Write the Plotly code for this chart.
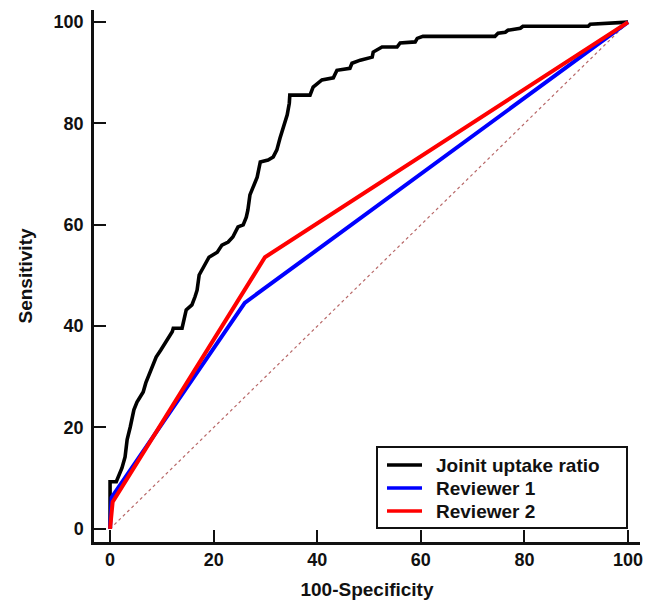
import plotly.graph_objects as go

# Joint uptake ratio ROC curve (100-Specificity, Sensitivity)
joint_x = [0, 0, 1.2, 2.3, 2.9, 3.3, 3.9, 4.6, 5.2, 6.4, 6.9, 7.9, 8.9, 9.8, 10.8, 12.0,
           12.2, 13.9, 14.7, 15.8, 16.4, 16.8, 17.2, 17.8, 18.7, 19.1, 20.7, 21.6, 22.8,
           23.7, 24.7, 25.7, 26.3, 26.6, 27.0, 28.0, 28.4, 29.0, 30.5, 31.5, 32.2, 32.8,
           33.4, 34.2, 34.6, 34.7, 38.6, 39.2, 40.9, 43.1, 43.8, 46.3, 46.7, 48.3, 50.6,
           50.8, 52.5, 55.4, 56.0, 58.9, 59.3, 60.4, 74.3, 74.9, 76.3, 76.8, 79.2, 79.7,
           92.3, 92.7, 100]
joint_y = [0, 9.3, 9.3, 12.0, 14.2, 17.6, 20.1, 23.5, 25.0, 27.0, 28.8, 31.4, 33.9, 35.3,
           36.9, 38.9, 39.6, 39.6, 43.2, 44.2, 45.8, 47.1, 50.1, 51.1, 52.7, 53.6, 54.6,
           56.0, 56.6, 57.6, 59.6, 60.0, 61.5, 62.9, 65.9, 68.2, 69.4, 72.4, 72.8, 73.4,
           74.8, 77.1, 79.1, 81.7, 84.0, 85.6, 85.6, 87.2, 88.6, 89.0, 90.5, 90.9, 91.9,
           92.5, 93.1, 94.1, 95.1, 95.1, 95.9, 96.1, 96.8, 97.2, 97.2, 97.8, 98.0, 98.4,
           98.8, 99.2, 99.2, 99.6, 100]

rev1_x = [0, 0.3, 26.0, 100]
rev1_y = [0, 6.2, 44.6, 100]

rev2_x = [0, 0.5, 29.9, 100]
rev2_y = [0, 5.3, 53.6, 100]

diag_x = [0, 100]
diag_y = [0, 100]

tick_vals = [0, 20, 40, 60, 80, 100]

series_names = ["Joinit uptake ratio", "Reviewer 1", "Reviewer 2"]
series_colors = ["black", "#0000ff", "#ff0000"]

FONT = "Liberation Sans, Arial, sans-serif"

fig = go.Figure()
fig.add_trace(go.Scatter(x=diag_x, y=diag_y, mode="lines", showlegend=False,
                         line=dict(color="#b86868", width=1.2, dash="dot")))
for xs, ys, name, col, w in [(joint_x, joint_y, series_names[0], series_colors[0], 3.6),
                             (rev1_x, rev1_y, series_names[1], series_colors[1], 4),
                             (rev2_x, rev2_y, series_names[2], series_colors[2], 4)]:
    fig.add_trace(go.Scatter(x=xs, y=ys, mode="lines", name=name, showlegend=False,
                             line=dict(color=col, width=w)))

# plot area spans page pixels x 94..640, y 10..542
PW, PH = 546.0, 532.0
def px(xp):
    return (xp - 94) / PW
def py(yp):
    return (542 - yp) / PH

row_y = [py(465), py(488), py(511)]
fig.add_shape(type="rect", xref="paper", yref="paper", x0=px(377), x1=px(627),
              y0=py(528), y1=py(447), line=dict(color="#111111", width=2),
              fillcolor="white", layer="above")
for name, col, ry in zip(series_names, series_colors, row_y):
    fig.add_shape(type="line", xref="paper", yref="paper", x0=px(387), x1=px(422),
                  y0=ry, y1=ry, line=dict(color=col, width=3.5), layer="above")
    fig.add_annotation(xref="paper", yref="paper", x=px(434), y=ry, text=name,
                       showarrow=False, xanchor="left", yanchor="middle",
                       font=dict(family=FONT, size=19, color="#111111", weight="bold"))

axis_common = dict(
    showline=True, linecolor="#111111", linewidth=2.5, mirror=False,
    ticks="inside", ticklen=12, tickwidth=2, tickcolor="#111111",
    showgrid=False, zeroline=False, tickvals=tick_vals, automargin=False,
    ticklabeloverflow="allow",
    tickfont=dict(family=FONT, size=18, color="#111111", weight="bold"),
)

fig.update_layout(
    width=646, height=608,
    margin=dict(l=94, r=6, t=10, b=66, autoexpand=False),
    plot_bgcolor="white", paper_bgcolor="white",
    showlegend=False,
    xaxis=dict(range=[-3.1, 102.3], title=dict(text="100-Specificity", standoff=14,
               font=dict(family=FONT, size=19, color="#111111", weight="bold")), **axis_common),
    yaxis=dict(range=[-2.6, 102.4], title=dict(text="Sensitivity", standoff=16,
               font=dict(family=FONT, size=19, color="#111111", weight="bold")),
               ticklabelstandoff=4, **axis_common),
)

fig.write_html("out.html", config={"displayModeBar": False},
               post_script="document.body.style.margin='0';document.body.style.overflow='hidden';")
